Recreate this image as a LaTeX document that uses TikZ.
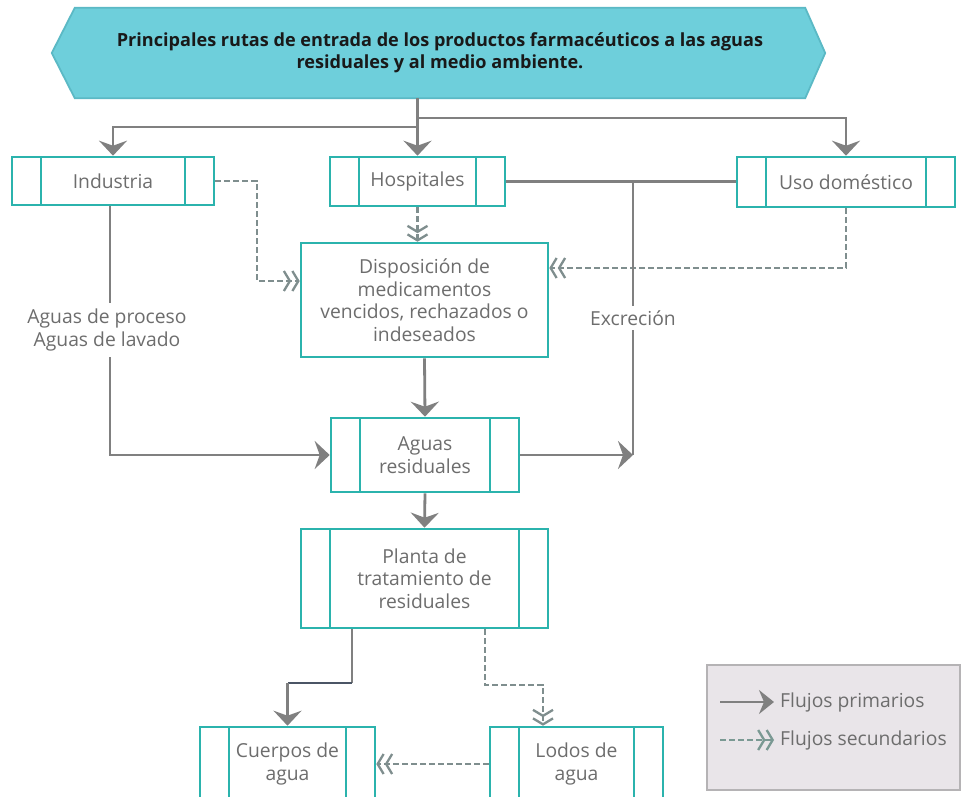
\documentclass[tikz,border=0pt]{standalone}
\usepackage{fontspec}
\setmainfont{Open Sans}
\usetikzlibrary{arrows.meta,calc,backgrounds}
\definecolor{tealb}{HTML}{2BB3AD}
\definecolor{bannerfill}{HTML}{6ECFDB}
\definecolor{bannerline}{HTML}{5BB9C5}
\definecolor{linegray}{HTML}{808080}
\definecolor{dashgray}{HTML}{7F8E8E}
\definecolor{leggreen}{HTML}{7A9993}
\definecolor{darkseg}{HTML}{4B5565}
\definecolor{txtgray}{HTML}{6D6D6D}
\definecolor{legfill}{HTML}{E9E5E9}
\definecolor{legline}{HTML}{B5B3B5}
\tikzset{
  txt/.style={font=\fontsize{19.3}{22.5}\selectfont, text=txtgray, align=center},
  box/.style={draw=tealb, line width=2.6pt, fill=white, txt, inner sep=0pt},
  sidebox/.style={box, path picture={
     \draw[tealb,line width=2.6pt] ([xshift=29pt]path picture bounding box.north west) -- ([xshift=29pt]path picture bounding box.south west);
     \draw[tealb,line width=2.6pt] ([xshift=-29pt]path picture bounding box.north east) -- ([xshift=-29pt]path picture bounding box.south east);}},
  primline/.style={draw=linegray, line width=2.8pt},
  prim/.style={primline, -{Stealth[length=15pt,width=28pt,inset=5pt]}},
  secline/.style={draw=dashgray, line width=2.4pt, dash pattern=on 6pt off 3pt},
  sectip/.style={-{Straight Barb[length=6pt,width=20pt,line width=2.3pt]Straight Barb[length=6pt,width=20pt,line width=2.3pt]}},
  sec/.style={secline, sectip},
  lab/.style={txt, fill=white, inner sep=3pt},
}
\begin{document}
\begin{tikzpicture}[x=1pt,y=-1pt]
\useasboundingbox (0,0) rectangle (962,796);
\clip (0,0) rectangle (962,796);

% banner
\node[inner sep=0pt, minimum width=730pt, minimum height=90pt, align=center,
      font=\fontsize{18.1}{22}\selectfont\bfseries, text=black!90] (ttl) at (440,53)
  {Principales rutas de entrada de los productos farmacéuticos a las aguas\\residuales y al medio ambiente.};
\begin{scope}[on background layer]
\draw[bannerline, fill=bannerfill, line width=1.8pt]
  ($(ttl.west)+(-23,0)$) -- (ttl.north west) -- (ttl.north east) -- ($(ttl.east)+(20,0)$)
  -- (ttl.south east) -- (ttl.south west) -- cycle;
\end{scope}

% boxes
\node[sidebox, minimum width=202pt, minimum height=48pt] (ind) at (113,181) {Industria};
\node[sidebox, minimum width=175pt, minimum height=49pt] (hos) at (417.5,181.5) {Hospitales};
\node[sidebox, minimum width=218pt, minimum height=50pt] (uso) at (846,182) {Uso doméstico};
\node[box, minimum width=247pt, minimum height=114pt] (disp) at (424.5,300)
  {Disposición de\\medicamentos\\vencidos, rechazados o\\indeseados};
\node[sidebox, minimum width=188pt, minimum height=74pt] (agu) at (425,455) {Aguas\\residuales};
\node[sidebox, minimum width=247pt, minimum height=99pt] (pla) at (424.5,578.5) {Planta de\\tratamiento de\\residuales};
\node[sidebox, minimum width=175pt, minimum height=74pt] (cue) at (287.5,764) {Cuerpos de\\agua};
\node[sidebox, minimum width=173pt, minimum height=74pt] (lod) at (576.5,764) {Lodos de\\agua};

% top distribution
\coordinate (jl) at (418,127);
\coordinate (jr) at (418,118);
\draw[prim] (ttl.south -| hos) -- (hos.north);
\draw[prim] (jl) -| (ind.north);
\draw[prim] (jr) -| (uso.north);

% secondary flows to disposicion
\coordinate (d1) at (257,281);
\coordinate (d2) at (846,268);
\draw[sec] (ind.east) -| (d1) -- (d1 -| disp.west);
\draw[sec] (hos.south) -- (hos.south |- disp.north);
\draw[sec] (uso.south) -- (d2) -- (d2 -| disp.east);

% excrecion
\coordinate (ex) at (633,181.5);
\coordinate (exb) at (633,455);
\draw[primline] (hos.east) -- (hos.east -| uso.west);
\draw[primline] (ex) -- (exb);
\node[lab, inner sep=5pt] (exl) at (633,318) {Excreción};
\draw[prim] (agu.east) -- (exb);

% industria to aguas residuales
\coordinate (il) at (110,455);
\draw[prim] ([xshift=-3pt]ind.south) -- (il) -- (agu.west);
\node[lab, inner sep=6pt] (indl) at (107,330) {Aguas de proceso\\Aguas de lavado};

% main chain
\draw[prim] (disp.south) -- (agu.north);
\draw[prim] (agu.south) -- (pla.north);

% planta outputs
\coordinate (p1) at (352,683);
\coordinate (p2) at (287.5,683);
\draw[primline] (pla.south -| p1) -- (p1);
\draw[draw=darkseg, line width=2.8pt] (p1) -- (p2);
\draw[prim] (p2) -- (cue.north);
\coordinate (q1) at (485,685);
\coordinate (q2) at (543,685);
\draw[sec] (pla.south -| q1) -- (q1) -- (q2) -- (q2 |- lod.north);
\draw[sec] (lod.west) -- (cue.east);

% legend
\node[draw=legline, fill=legfill, line width=2.2pt, minimum width=253pt, minimum height=125pt] (leg) at (833.5,727.5) {};
\coordinate (l1a) at (720,702);
\coordinate (l2a) at (720,740);
\node[txt, anchor=west, inner sep=0pt] (lt1) at (780,702) {Flujos primarios};
\node[txt, anchor=west, inner sep=0pt] (lt2) at (780,740) {Flujos secundarios};
\draw[primline, -{Stealth[length=15pt,width=24pt,inset=5pt]}] (l1a) -- ([xshift=-6pt]lt1.west);
\draw[secline, draw=leggreen, sectip] (l2a) -- ([xshift=-6pt]lt2.west);
\end{tikzpicture}
\end{document}
